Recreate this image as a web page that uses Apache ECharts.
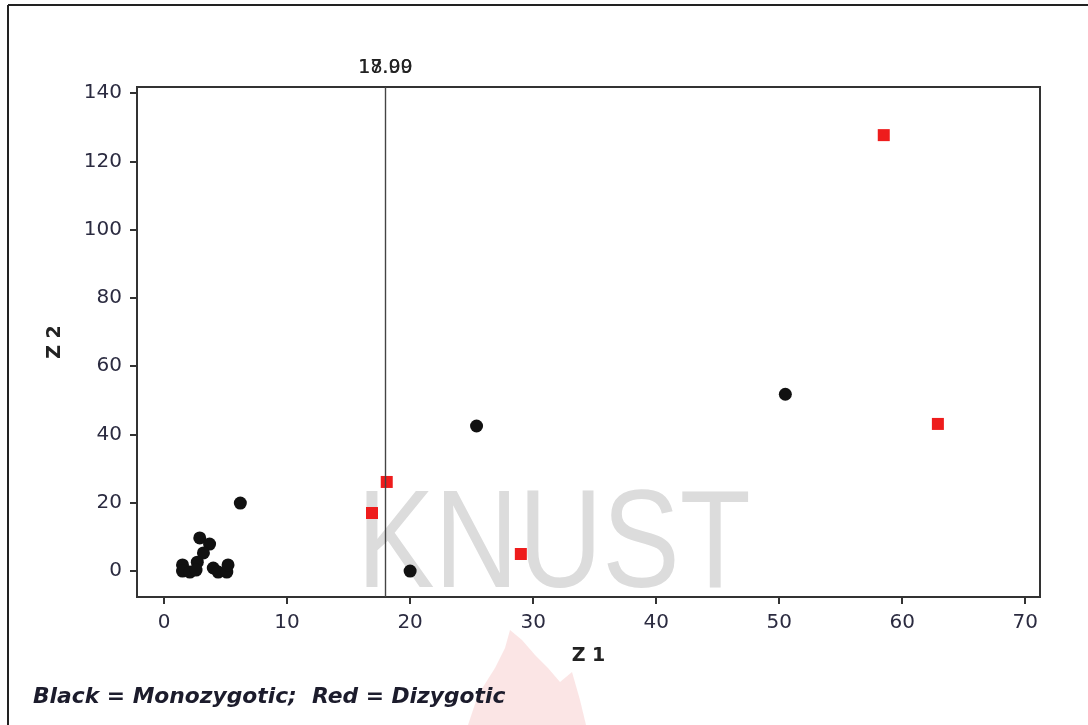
<!DOCTYPE html>
<html><head><meta charset="utf-8">
<script src="https://cdn.jsdelivr.net/npm/echarts@6/dist/echarts.min.js"></script>
<style>html,body{margin:0;padding:0;background:#fff;}#c{width:1088px;height:725px;}</style>
</head><body><div id="c"></div>
<script>
// Data
const monoX = [6.2, 25.4, 50.5, 20.0, 2.9, 3.7, 3.2, 2.7, 1.5, 1.5, 2.1, 2.6, 4.0, 4.4, 5.1, 5.2];
const monoY = [19.9, 42.5, 51.8, 0.0, 9.7, 7.9, 5.3, 2.6, 1.8, 0.0, -0.3, 0.3, 0.9, -0.3, -0.3, 1.8];
const diX = [58.5, 62.9, 18.1, 16.9, 29.0];
const diY = [127.7, 43.1, 26.1, 17.0, 5.0];
const xTicks = [0, 10, 20, 30, 40, 50, 60, 70];
const yTicks = [0, 20, 40, 60, 80, 100, 120, 140];
const refLines = [17.99, 18.00];
const footnote = 'Black = Monozygotic;  Red = Dizygotic';

const chart = echarts.init(document.getElementById('c'), null, {renderer: 'canvas'});
const FONT = 'DejaVu Sans';
const tickColor = '#333';
chart.setOption({
  animation: false,
  backgroundColor: '#fff',
  grid: {left: 137, right: 48, top: 87, bottom: 128, show: true, borderColor: '#333', borderWidth: 2, backgroundColor: 'transparent'},
  xAxis: {
    type: 'value', min: -2.2, max: 71.2,
    name: 'Z 1', nameLocation: 'middle', nameGap: 50,
    nameTextStyle: {fontFamily: FONT, fontWeight: 'bold', fontSize: 19, color: '#222'},
    splitLine: {show: false},
    axisLine: {show: true, onZero: false, lineStyle: {color: '#333', width: 2}},
    axisTick: {show: true, length: 7, customValues: xTicks, lineStyle: {color: tickColor, width: 2}},
    axisLabel: {customValues: xTicks, fontFamily: FONT, fontSize: 20, color: '#2b2b40', margin: 16}
  },
  yAxis: {
    type: 'value', min: -7.6, max: 141.8,
    name: 'Z 2', nameLocation: 'middle', nameGap: 72, nameRotate: 90,
    nameTextStyle: {fontFamily: FONT, fontWeight: 'bold', fontSize: 19, color: '#222'},
    splitLine: {show: false},
    axisLine: {show: true, onZero: false, lineStyle: {color: '#333', width: 2}},
    axisTick: {show: true, length: 7, customValues: yTicks, lineStyle: {color: tickColor, width: 2}},
    axisLabel: {customValues: yTicks, fontFamily: FONT, fontSize: 20, color: '#2b2b40', margin: 15}
  },
  graphic: [
    {type: 'line', shape: {x1: 8, y1: 5, x2: 8, y2: 725}, style: {stroke: '#222', lineWidth: 2}, z: 0},
    {type: 'line', shape: {x1: 8, y1: 5, x2: 1088, y2: 5}, style: {stroke: '#222', lineWidth: 2}, z: 0},
    {type: 'polygon', shape: {points: [[468,725],[478,695],[495,668],[505,648],[510,630],[522,640],[535,655],[548,668],[560,682],[572,672],[580,700],[586,725]]},
      style: {fill: 'rgba(230,80,80,0.15)'}, z: 0},
    {type: 'text', left: 357, top: 478, z: 0, scaleX: 0.83,
      style: {text: 'KNUST', font: '140px "Liberation Sans"', fill: '#dcdcdc'}},
    {type: 'text', left: 33, top: 686, z: 5,
      style: {text: footnote, font: 'italic bold 21.8px "DejaVu Sans"', fill: '#1c1c2c'}}
  ],
  series: [
    {
      type: 'scatter', name: 'Monozygotic', z: 3,
      symbol: 'circle', symbolSize: 13,
      itemStyle: {color: '#111', opacity: 1},
      data: monoX.map((x, i) => [x, monoY[i]]),
      markLine: {
        symbol: 'none', silent: true, animation: false,
        lineStyle: {color: '#444', width: 1.2, type: 'solid'},
        label: {position: 'end', distance: 9, fontFamily: FONT, fontSize: 19, color: '#222', formatter: p => p.value.toFixed(2)},
        data: refLines.map(v => ({xAxis: v}))
      }
    },
    {
      type: 'scatter', name: 'Dizygotic', z: 3,
      symbol: 'rect', symbolSize: 12,
      itemStyle: {color: '#ee1c1c', opacity: 1},
      data: diX.map((x, i) => [x, diY[i]])
    }
  ]
});
</script></body></html>
